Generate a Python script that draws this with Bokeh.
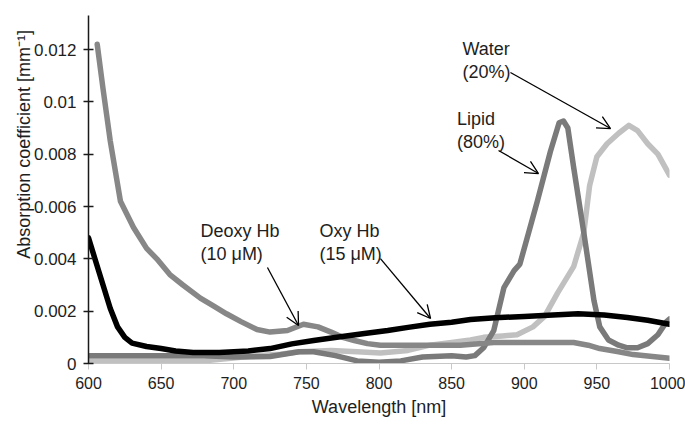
from bokeh.plotting import figure
from bokeh.models import Range1d, FixedTicker, CustomJSTickFormatter, Label, Arrow, OpenHead
from bokeh.embed import file_html
from bokeh.resources import INLINE

# ---------------- data ----------------
x_ticks = [600, 650, 700, 750, 800, 850, 900, 950, 1000]
y_ticks = [0, 0.002, 0.004, 0.006, 0.008, 0.010, 0.012]
y_tick_labels = ["0", "0.002", "0.004", "0.006", "0.008", "0.01", "0.012"]

oxy_wl = [600, 605, 610, 615, 620, 625, 630, 640, 650, 660, 672, 690, 700, 710, 725,
          740, 755, 771, 790, 806, 820, 835, 850, 863, 880, 900, 913, 937, 955, 971, 985, 1000]
oxy_val = [0.0048, 0.0039, 0.0030, 0.0021, 0.0014, 0.0010, 0.00078, 0.00065, 0.00057, 0.00048,
           0.00042, 0.00042, 0.00045, 0.00048, 0.00057, 0.00075, 0.00088, 0.0010, 0.00115,
           0.00126, 0.00138, 0.0015, 0.00158, 0.00168, 0.00175, 0.0018, 0.00183, 0.0019,
           0.00185, 0.00176, 0.00165, 0.0015]

deoxy_wl = [606, 610, 615, 622, 631, 640, 647, 656, 665, 677, 686, 695, 705, 716, 725, 737,
            748, 758, 767, 775, 783, 792, 801, 830, 856, 879, 934, 944, 952, 965, 975, 990, 1000]
deoxy_val = [0.0122, 0.0105, 0.0085, 0.0062, 0.0052, 0.0044, 0.0040, 0.0034, 0.0030, 0.0025,
             0.0022, 0.0019, 0.0016, 0.0013, 0.0012, 0.00126, 0.0015, 0.0014, 0.0012, 0.0010,
             0.00088, 0.00076, 0.0007, 0.0007, 0.0007, 0.0008, 0.0008, 0.0007, 0.00057,
             0.00045, 0.00034, 0.00026, 0.0002]

lipid_wl = [600, 650, 680, 700, 725, 745, 755, 770, 785, 800, 815, 830, 850, 860, 866, 872,
            879, 886, 893, 897, 903, 909, 918, 924, 927, 930, 934, 941, 948, 952, 958, 965,
            971, 978, 985, 992, 998, 1000]
lipid_val = [0.0003, 0.0003, 0.0003, 0.00025, 0.00027, 0.00045, 0.00045, 0.0003, 0.0001,
             0.00005, 0.0001, 0.00025, 0.0003, 0.00025, 0.0003, 0.0006, 0.00126, 0.0029,
             0.00355, 0.0038, 0.0050, 0.0062, 0.0081, 0.0092, 0.00927, 0.0090, 0.0075,
             0.0050, 0.0024, 0.0014, 0.0009, 0.0007, 0.0006, 0.0006, 0.00076, 0.0011,
             0.0016, 0.0017]

water_wl = [600, 650, 680, 698, 715, 732, 745, 767, 785, 801, 820, 835, 850, 863, 872, 885,
            895, 906, 914, 923, 934, 941, 945, 950, 957, 965, 972, 978, 985, 992, 1000]
water_val = [0.0001, 0.0001, 0.0001, 0.0002, 0.0003, 0.00035, 0.00045, 0.0005, 0.00045,
             0.0004, 0.0005, 0.0007, 0.0008, 0.0009, 0.0010, 0.00105, 0.0011, 0.0014,
             0.0018, 0.0027, 0.0037, 0.0050, 0.0068, 0.0079, 0.0084, 0.0088, 0.0091,
             0.0089, 0.0084, 0.0080, 0.0072]

# annotations: text, (left, top) anchor, arrow (x0, y0, x1, y1)
ann_texts = ["Deoxy Hb\n(10 μM)", "Oxy Hb\n(15 μM)", "Water\n(20%)", "Lipid\n(80%)"]
ann_pos = [(677.1, 0.00546), (759.0, 0.00546), (857.5, 0.01242), (853.7, 0.00974)]
ann_arrows = [(723.2, 0.00367, 744.6, 0.00145),
              (801.0, 0.00401, 835.5, 0.00172),
              (890.5, 0.01112, 959.4, 0.00898),
              (882.3, 0.00814, 909.8, 0.00726)]

FONT = "Liberation Sans"
TXT = "#1e1e1e"

p = figure(width=685, height=429, output_backend="svg", toolbar_location=None,
           x_range=Range1d(600, 1000), y_range=Range1d(0, 0.0133),
           min_border_left=88, min_border_right=16, min_border_top=15, min_border_bottom=66)
p.outline_line_color = None
p.xgrid.visible = False
p.ygrid.visible = False
p.background_fill_color = "white"
p.border_fill_color = "white"

# x axis
p.xaxis.ticker = FixedTicker(ticks=x_ticks)
p.xaxis.axis_line_color = "#c8c8c8"
p.xaxis.axis_line_width = 1.2
p.xaxis.major_tick_line_color = "#c8c8c8"
p.xaxis.major_tick_in = 0
p.xaxis.major_tick_out = 6
p.xaxis.minor_tick_line_color = None
p.xaxis.major_label_text_font = FONT
p.xaxis.major_label_text_font_size = "16px"
p.xaxis.major_label_text_color = TXT
p.xaxis.major_label_standoff = 7
p.xaxis.axis_label = "Wavelength [nm]"
p.xaxis.axis_label_text_font = FONT
p.xaxis.axis_label_text_font_size = "18px"
p.xaxis.axis_label_text_font_style = "normal"
p.xaxis.axis_label_text_color = TXT
p.xaxis.axis_label_standoff = 5

# y axis
p.yaxis.ticker = FixedTicker(ticks=y_ticks)
p.yaxis.formatter = CustomJSTickFormatter(args=dict(vals=y_ticks, labs=y_tick_labels), code="""
let best = 0;
for (let i = 0; i < vals.length; i++) {
  if (Math.abs(vals[i] - tick) < Math.abs(vals[best] - tick)) best = i;
}
return labs[best];
""")
p.yaxis.axis_line_color = "#1a1a1a"
p.yaxis.axis_line_width = 1.5
p.yaxis.major_tick_line_color = "#1a1a1a"
p.yaxis.major_tick_line_width = 1.5
p.yaxis.major_tick_in = 5
p.yaxis.major_tick_out = 5
p.yaxis.minor_tick_line_color = None
p.yaxis.major_label_text_font = FONT
p.yaxis.major_label_text_font_size = "17px"
p.yaxis.major_label_text_color = TXT
p.yaxis.major_label_standoff = 7
p.yaxis.axis_label = "\u00a0" * 18 + "Absorption coefficient [mm⁻¹]"
p.yaxis.axis_label_text_font = FONT
p.yaxis.axis_label_text_font_size = "18px"
p.yaxis.axis_label_text_font_style = "normal"
p.yaxis.axis_label_text_color = TXT
p.yaxis.axis_label_standoff = -3

# curves
LW = 5.5
p.line(water_wl, water_val, line_color="#c0c0c0", line_width=LW, line_join="round", line_cap="round")
p.line(lipid_wl, lipid_val, line_color="#7a7a7a", line_width=LW, line_join="round", line_cap="round")
p.line(deoxy_wl, deoxy_val, line_color="#878787", line_width=LW, line_join="round", line_cap="round")
p.line(oxy_wl, oxy_val, line_color="#000000", line_width=LW, line_join="round", line_cap="round")

# annotations
for t, (ax, ay) in zip(ann_texts, ann_pos):
    p.add_layout(Label(x=ax, y=ay, text=t, text_align="left", text_baseline="top",
                       text_font=FONT, text_font_size="18px", text_color=TXT,
                       text_line_height=1.15))
for (x0, y0, x1, y1) in ann_arrows:
    p.add_layout(Arrow(end=OpenHead(size=13, line_width=1.3, line_color="black"),
                       x_start=x0, y_start=y0, x_end=x1, y_end=y1,
                       line_width=1.3, line_color="black"))

open("out.html", "w").write(file_html(p, INLINE))
